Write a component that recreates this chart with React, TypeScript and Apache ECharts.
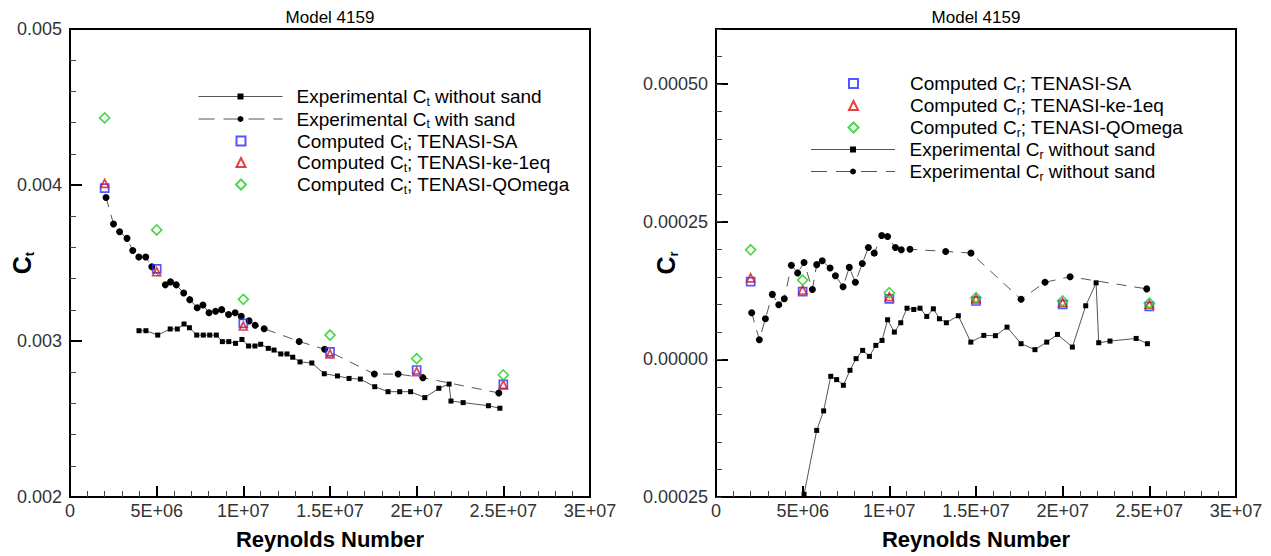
import React, { useEffect, useRef } from 'react';
import * as echarts from 'echarts';

const FONT = '"Liberation Sans", Arial, Helvetica, sans-serif';

// ---------- Left panel: C_t ----------
const reCtNoSand = [3.98e6, 4.38e6, 5.06e6, 5.78e6, 6.19e6, 6.58e6, 6.89e6, 7.31e6, 7.69e6, 8.06e6, 8.44e6, 8.79e6, 9.16e6, 9.55e6, 9.92e6, 10.3e6, 10.67e6, 11.0e6, 11.44e6, 11.77e6, 12.16e6, 12.52e6, 12.85e6, 13.27e6, 13.95e6, 14.67e6, 15.43e6, 16.1e6, 16.75e6, 17.58e6, 18.35e6, 19.02e6, 19.65e6, 20.47e6, 21.28e6, 21.87e6, 21.98e6, 22.68e6, 24.14e6, 24.8e6];
const ctNoSand = [0.003066, 0.003066, 0.003038, 0.003077, 0.003077, 0.003109, 0.003085, 0.003038, 0.003038, 0.003038, 0.003038, 0.002996, 0.002996, 0.002985, 0.00301, 0.002968, 0.002968, 0.002979, 0.002953, 0.002942, 0.002917, 0.002917, 0.002896, 0.002866, 0.002859, 0.00279, 0.002776, 0.00276, 0.002756, 0.002707, 0.002675, 0.002675, 0.002675, 0.002637, 0.002697, 0.002724, 0.002615, 0.002605, 0.002585, 0.002569];

const reCtSand = [2.08e6, 2.51e6, 2.86e6, 3.29e6, 3.62e6, 3.97e6, 4.37e6, 4.72e6, 5.5e6, 5.8e6, 6.13e6, 6.56e6, 6.91e6, 7.34e6, 7.67e6, 8.02e6, 8.4e6, 8.75e6, 9.15e6, 9.53e6, 9.88e6, 10.33e6, 10.68e6, 11.2e6, 13.22e6, 14.69e6, 17.56e6, 18.93e6, 20.36e6, 24.74e6];
const ctSand = [0.00392, 0.00375, 0.0037, 0.003658, 0.00358, 0.003538, 0.003538, 0.003476, 0.00336, 0.003379, 0.00336, 0.003308, 0.003265, 0.003213, 0.003231, 0.003181, 0.003191, 0.003201, 0.00317, 0.003181, 0.003158, 0.003129, 0.003101, 0.003079, 0.002997, 0.002947, 0.002788, 0.002788, 0.002765, 0.002667];

const reComputed = [2e6, 5e6, 1e7, 1.5e7, 2e7, 2.5e7];
const ctSA = [0.00398, 0.003462, 0.003113, 0.00293, 0.002814, 0.002722];
const ctKe = [0.00401, 0.003444, 0.003096, 0.002917, 0.002803, 0.002718];
const ctQO = [0.00443, 0.003712, 0.003267, 0.003038, 0.002887, 0.002782];

// ---------- Right panel: C_r ----------
const reCrNoSand = [5.08e6, 5.81e6, 6.21e6, 6.62e6, 6.96e6, 7.35e6, 7.73e6, 8.08e6, 8.46e6, 8.85e6, 9.22e6, 9.58e6, 9.9e6, 10.29e6, 10.66e6, 11.02e6, 11.41e6, 11.77e6, 12.16e6, 12.54e6, 12.89e6, 13.29e6, 13.98e6, 14.7e6, 15.45e6, 16.12e6, 16.79e6, 17.6e6, 18.4e6, 19.08e6, 19.7e6, 20.56e6, 21.33e6, 21.93e6, 22.08e6, 22.73e6, 24.24e6, 24.89e6];
const crNoSand = [-0.000245, -0.000129, -0.0000936, -0.0000308, -0.0000368, -0.0000471, -0.0000199, 0.0000013, 0.0000163, 0.0000054, 0.0000254, 0.0000344, 0.0000719, 0.0000495, 0.0000665, 0.0000929, 0.0000906, 0.0000929, 0.0000779, 0.0000918, 0.0000737, 0.0000665, 0.0000792, 0.0000313, 0.0000435, 0.000043, 0.0000585, 0.0000284, 0.0000176, 0.0000313, 0.0000453, 0.0000223, 0.0000973, 0.000139, 0.0000302, 0.0000332, 0.000038, 0.0000284];

const reCrSand = [2.06e6, 2.5e6, 2.85e6, 3.25e6, 3.62e6, 3.94e6, 4.35e6, 4.71e6, 5.08e6, 5.56e6, 5.81e6, 6.13e6, 6.58e6, 6.89e6, 7.33e6, 7.69e6, 8.04e6, 8.44e6, 8.79e6, 9.13e6, 9.56e6, 9.9e6, 10.35e6, 10.69e6, 11.19e6, 13.25e6, 14.71e6, 17.6e6, 18.98e6, 20.43e6, 24.85e6];
const crSand = [0.0000846, 0.0000357, 0.0000737, 0.000118, 0.0000991, 0.00011, 0.000171, 0.000157, 0.000176, 0.000127, 0.000172, 0.000179, 0.000166, 0.000152, 0.000132, 0.000167, 0.00014, 0.000174, 0.000203, 0.000193, 0.000225, 0.000223, 0.000203, 0.000199, 0.0002, 0.000196, 0.000193, 0.000109, 0.00014, 0.00015, 0.000128];

const crSA = [0.000141, 0.000123, 0.00011, 0.000106, 0.0000996, 0.000096];
const crKe = [0.000148, 0.000126, 0.000114, 0.00011, 0.000103, 0.0000996];
const crQO = [0.000199, 0.000144, 0.000121, 0.000112, 0.000106, 0.000102];

// ---------- Tick labels / texts ----------
const xTickLabels = ['0', '5E+06', '1E+07', '1.5E+07', '2E+07', '2.5E+07', '3E+07'];
const titleText = 'Model 4159';
const xName = 'Reynolds Number';

const legendTexts: Record<string, [string, string, string]> = {
  ctExpNo: ['Experimental C', 't', ' without sand'],
  ctExpSand: ['Experimental C', 't', ' with sand'],
  ctSA: ['Computed C', 't', '; TENASI-SA'],
  ctKe: ['Computed C', 't', '; TENASI-ke-1eq'],
  ctQO: ['Computed C', 't', '; TENASI-QOmega'],
  crSA: ['Computed C', 'r', '; TENASI-SA'],
  crKe: ['Computed C', 'r', '; TENASI-ke-1eq'],
  crQO: ['Computed C', 'r', '; TENASI-QOmega'],
  crExpNo: ['Experimental C', 'r', ' without sand'],
  crExpSand: ['Experimental C', 'r', ' without sand'],
};

const BLUE = '#2b2bff';
const RED = '#e01010';
const GREEN = '#22cc22';
const LINE_GRAY = '#555';

const pairs = (xs: number[], ys: number[]) => xs.map((x, i) => [x, ys[i]]);

function expLine(name: string, xs: number[], ys: number[], xi: number, yi: number, dashed: boolean, symbol: string, size: number) {
  return {
    type: 'line',
    name,
    xAxisIndex: xi,
    yAxisIndex: yi,
    data: pairs(xs, ys),
    symbol,
    symbolSize: size,
    showSymbol: true,
    lineStyle: { color: LINE_GRAY, width: 1, type: dashed ? [10, 8] : 'solid' },
    itemStyle: { color: '#000' },
    z: 2,
  };
}

function computed(name: string, ys: number[], xi: number, yi: number, symbol: string, size: number, color: string, z: number) {
  return {
    type: 'scatter',
    name,
    xAxisIndex: xi,
    yAxisIndex: yi,
    data: pairs(reComputed, ys),
    symbol,
    symbolSize: size,
    itemStyle: { color: 'transparent', borderColor: color, borderWidth: 1.7 },
    z,
  };
}

const LEG_FS = 19;

function legendRow(name: string, cx: number, textX: number, cy: number, kind: 'solid' | 'dashed' | 'marker', size: number) {
  const isLine = kind !== 'marker';
  const w = isLine ? 84 : size;
  const h = isLine ? 7.5 : size;
  const left = cx - w / 2;
  const gap = Math.max(1, textX - (left + w + 5));
  const rich = {
    g: { width: gap, fontSize: LEG_FS, lineHeight: 22 },
    a: { fontSize: LEG_FS, lineHeight: 22, color: '#000', fontFamily: FONT },
    s: { fontSize: 12, lineHeight: 12, color: '#000', fontFamily: FONT, verticalAlign: 'bottom' },
  };
  const o: any = {
    data: [name],
    left,
    top: cy - 11,
    orient: 'horizontal',
    padding: 0,
    itemWidth: w,
    itemHeight: h,
    itemGap: 0,
    selectedMode: false,
    formatter: (n: string) => {
      const t = legendTexts[n];
      return `{g| }{a|${t[0]}}{s|${t[1]}}{a|${t[2]}}`;
    },
    textStyle: { rich, fontFamily: FONT },
  };
  if (kind === 'dashed') o.lineStyle = { type: [16, 9], color: LINE_GRAY, width: 1 };
  if (kind === 'solid') o.lineStyle = { type: 'solid', color: LINE_GRAY, width: 1 };
  return o;
}

const axisCommonX = (gridIndex: number) => ({
  type: 'value',
  gridIndex,
  min: 0,
  max: 3e7,
  interval: 5e6,
  name: xName,
  nameLocation: 'middle',
  nameGap: 31,
  nameMoveOverlap: false,
  nameTextStyle: { fontSize: 22, fontWeight: 'bold', color: '#000', fontFamily: FONT },
  axisLine: { onZero: false, lineStyle: { color: '#000', width: 2 } },
  axisTick: { inside: true, length: 11, lineStyle: { color: '#000', width: 2 } },
  minorTick: { show: true, splitNumber: 5, length: 6, lineStyle: { color: '#444', width: 1 } },
  splitLine: { show: false },
  axisLabel: {
    margin: 5,
    fontSize: 18,
    color: '#333',
    fontFamily: FONT,
    formatter: (v: number) => xTickLabels[Math.round(v / 5e6)],
  },
});

const yName = (sub: string) => ({
  name: `{c|C}{s|${sub}}`,
  nameLocation: 'middle',
  nameMoveOverlap: false,
  nameTextStyle: {
    rich: {
      c: { fontSize: 25, fontWeight: 'bold', lineHeight: 28, color: '#000', fontFamily: FONT },
      s: { fontSize: 13, fontWeight: 'bold', lineHeight: 14, verticalAlign: 'bottom', color: '#000', fontFamily: FONT },
    },
  },
});

export default function App() {
  const ref = useRef<HTMLDivElement>(null);
  useEffect(() => {
    if (!ref.current) return;
    const chart = echarts.init(ref.current, undefined, { renderer: 'svg' });
    const gridBase = { top: 29, width: 520, height: 468, show: true, borderColor: '#000', borderWidth: 2, backgroundColor: 'transparent', containLabel: false, outerBoundsMode: 'none' };
    const option = {
      animation: false,
      backgroundColor: '#fff',
      grid: [
        { ...gridBase, left: 70 },
        { ...gridBase, left: 716 },
      ],
      xAxis: [axisCommonX(0), axisCommonX(1)],
      yAxis: [
        {
          type: 'value',
          gridIndex: 0,
          position: 'left',
          min: 0.002,
          max: 0.005,
          interval: 0.001,
          ...yName('t'),
          nameGap: 34,
          axisLine: { onZero: false, lineStyle: { color: '#000', width: 2 } },
          axisTick: { inside: true, length: 12, lineStyle: { color: '#000', width: 2 } },
          minorTick: { show: true, splitNumber: 5, length: 6, lineStyle: { color: '#444', width: 1 } },
          splitLine: { show: false },
          axisLabel: { margin: 8, fontSize: 18, color: '#333', fontFamily: FONT, formatter: (v: number) => v.toFixed(3) },
        },
        {
          type: 'value',
          gridIndex: 1,
          position: 'left',
          min: -0.00025,
          max: 0.0006,
          interval: 0.00025,
          ...yName('r'),
          nameGap: 36,
          axisLine: { onZero: false, lineStyle: { color: '#000', width: 2 } },
          axisTick: { inside: true, length: 12, lineStyle: { color: '#000', width: 2 } },
          splitLine: { show: false },
          axisLabel: {
            margin: 8,
            fontSize: 18,
            color: '#333',
            fontFamily: FONT,
            showMaxLabel: false,
            formatter: (v: number) => Math.abs(v).toFixed(5),
          },
        },
        {
          type: 'value',
          gridIndex: 1,
          position: 'left',
          offset: 0,
          min: -0.00025,
          max: 0.0006,
          interval: 0.00005,
          axisLine: { show: false, onZero: false },
          axisTick: { inside: true, length: 6, lineStyle: { color: '#444', width: 1 } },
          splitLine: { show: false },
          axisLabel: { show: false },
        },
      ],
      legend: [
        legendRow('ctExpNo', 240, 296, 98, 'solid', 0),
        legendRow('ctExpSand', 240, 296, 120.5, 'dashed', 0),
        legendRow('ctSA', 240, 296, 142.5, 'marker', 9),
        legendRow('ctKe', 240, 296, 164, 'marker', 9),
        legendRow('ctQO', 240, 296, 186, 'marker', 10),
        legendRow('crSA', 852.5, 909, 85, 'marker', 9),
        legendRow('crKe', 852.5, 909, 107, 'marker', 9),
        legendRow('crQO', 852.5, 909, 129, 'marker', 10),
        legendRow('crExpNo', 852.5, 909, 151, 'solid', 0),
        legendRow('crExpSand', 852.5, 909, 173, 'dashed', 0),
      ],
      graphic: [
        { type: 'text', x: 330, y: 17, style: { text: titleText, textAlign: 'center', textVerticalAlign: 'middle', fontSize: 17, fill: '#000', fontFamily: FONT } },
        { type: 'text', x: 976, y: 17, style: { text: titleText, textAlign: 'center', textVerticalAlign: 'middle', fontSize: 17, fill: '#000', fontFamily: FONT } },
      ],
      series: [
        expLine('ctExpNo', reCtNoSand, ctNoSand, 0, 0, false, 'rect', 5),
        expLine('ctExpSand', reCtSand, ctSand, 0, 0, true, 'circle', 7),
        computed('ctSA', ctSA, 0, 0, 'rect', 8, BLUE, 3),
        computed('ctKe', ctKe, 0, 0, 'triangle', 8, RED, 4),
        computed('ctQO', ctQO, 0, 0, 'diamond', 10, GREEN, 5),
        expLine('crExpNo', reCrNoSand, crNoSand, 1, 1, false, 'rect', 5),
        expLine('crExpSand', reCrSand, crSand, 1, 1, true, 'circle', 7),
        computed('crSA', crSA, 1, 1, 'rect', 8, BLUE, 3),
        computed('crKe', crKe, 1, 1, 'triangle', 8, RED, 4),
        computed('crQO', crQO, 1, 1, 'diamond', 10, GREEN, 5),
      ],
    };
    chart.setOption(option as any);
    return () => chart.dispose();
  }, []);
  return <div ref={ref} style={{ position: 'fixed', left: 0, top: 0, width: 1271, height: 556, background: '#fff' }} />;
}
